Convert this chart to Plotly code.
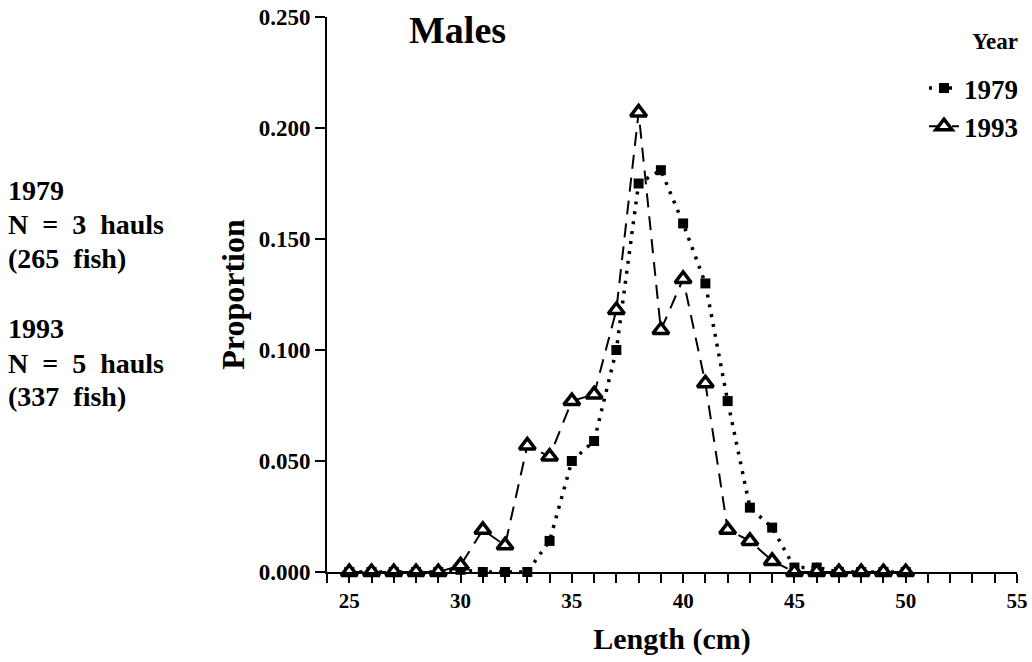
import plotly.graph_objects as go

lengths = list(range(25, 51))
prop_1979 = [0, 0, 0, 0, 0, 0.001, 0, 0, 0, 0.014, 0.050, 0.059, 0.100, 0.175, 0.181,
             0.157, 0.130, 0.077, 0.029, 0.020, 0.002, 0.002, 0, 0, 0, 0]
prop_1993 = [0, 0, 0, 0, 0, 0.003, 0.019, 0.012, 0.057, 0.052, 0.077, 0.080, 0.118, 0.207, 0.109,
             0.132, 0.085, 0.019, 0.014, 0.005, 0, 0, 0, 0, 0, 0]
x_tick_vals = list(range(24, 56))
x_tick_text = [str(v) if v % 5 == 0 else "" for v in x_tick_vals]
y_tick_vals = [0, 0.05, 0.10, 0.15, 0.20, 0.25]

FONT = "Liberation Serif"

fig = go.Figure()
fig.add_trace(go.Scatter(
    x=lengths, y=prop_1979, name="<b>1979</b>", mode="lines+markers",
    line=dict(color="black", dash="3px,7px", width=3.5),
    marker=dict(symbol="square", size=10, color="black"),
    cliponaxis=False,
))
fig.add_trace(go.Scatter(
    x=lengths, y=prop_1993, name="<b>1993</b>", mode="lines+markers",
    line=dict(color="black", dash="14px,9px", width=2),
    marker=dict(symbol="triangle-up", size=14, color="white", line=dict(color="black", width=3.5)),
    cliponaxis=False,
))

fig.update_layout(
    width=1032, height=662,
    margin=dict(l=327, r=15, t=17, b=90, autoexpand=False),
    plot_bgcolor="white", paper_bgcolor="white",
    font=dict(family=FONT, color="black", size=20),
    showlegend=True,
    legend=dict(
        x=(924 - 327) / 690, y=(572 - 64) / 555, xanchor="left", yanchor="top",
        font=dict(size=27, family=FONT),
        itemwidth=30, tracegroupgap=0,
        bgcolor="rgba(0,0,0,0)",
    ),
    xaxis=dict(
        range=[24, 55], showline=True, linecolor="black", linewidth=2, automargin=False,
        ticks="outside", ticklen=9, tickwidth=2, tickcolor="black",
        tickmode="array", tickvals=x_tick_vals,
        ticktext=["<b>%s</b>" % t if t else "" for t in x_tick_text],
        tickfont=dict(size=21, family=FONT),
        showgrid=False, zeroline=False,
        title=dict(text="<b>Length (cm)</b>", font=dict(size=30, family=FONT), standoff=16),
    ),
    yaxis=dict(
        range=[0, 0.25], showline=True, linecolor="black", linewidth=2, automargin=False,
        ticks="outside", ticklen=10, tickwidth=2, tickcolor="black",
        tickmode="array", tickvals=y_tick_vals,
        ticktext=["<b>%.3f</b>" % v for v in y_tick_vals],
        tickfont=dict(size=23, family=FONT),
        showgrid=False, zeroline=False,
        title=dict(text="<b>Proportion</b>", font=dict(size=32, family=FONT), standoff=4),
    ),
)

fig.add_annotation(text="<b>Year</b>", xref="paper", yref="paper",
                   x=(1020 - 327) / 690, y=(572 - 42) / 555, xanchor="right", yanchor="middle",
                   showarrow=False, font=dict(size=23, family=FONT))

fig.add_annotation(text="<b>Males</b>", xref="paper", yref="paper",
                   x=(457 - 327) / 690, y=(572 - 30) / 555, xanchor="center", yanchor="middle",
                   showarrow=False, font=dict(size=38, family=FONT))

left_lines = [("1979", 190), ("N&nbsp;&nbsp;=&nbsp;&nbsp;3&nbsp;&nbsp;hauls", 225), ("(265&nbsp;&nbsp;fish)", 258),
              ("1993", 328), ("N&nbsp;&nbsp;=&nbsp;&nbsp;5&nbsp;&nbsp;hauls", 363), ("(337&nbsp;&nbsp;fish)", 396)]
for txt, py in left_lines:
    fig.add_annotation(text="<b>%s</b>" % txt, xref="paper", yref="paper",
                       x=(6 - 327) / 690, y=(572 - py) / 555, xanchor="left", yanchor="middle",
                       showarrow=False, font=dict(size=28, family=FONT))

fig.write_html("out.html")
